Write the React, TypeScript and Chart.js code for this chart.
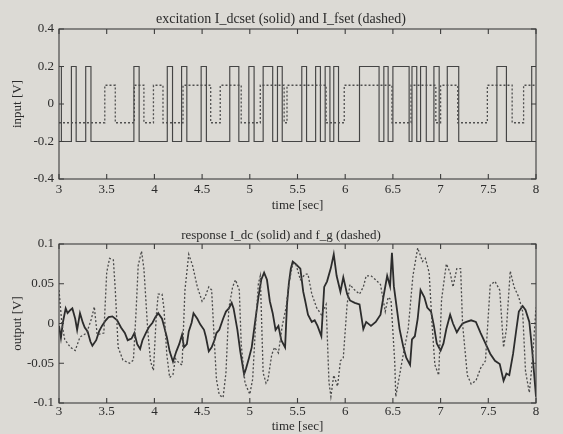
import React, { useEffect, useRef } from "react";
import { Chart, registerables } from "chart.js";

Chart.register(...registerables);

// ---------- axis ticks ----------
const timeTicks = [3, 3.5, 4, 4.5, 5, 5.5, 6, 6.5, 7, 7.5, 8];
const timeTickLabels = ["3", "3.5", "4", "4.5", "5", "5.5", "6", "6.5", "7", "7.5", "8"];
const inputTicks = [-0.4, -0.2, 0, 0.2, 0.4];
const inputTickLabels = ["-0.4", "-0.2", "0", "0.2", "0.4"];
const outputTicks = [-0.1, -0.05, 0, 0.05, 0.1];
const outputTickLabels = ["-0.1", "-0.05", "0", "0.05", "0.1"];

// ---------- excitation I_dcset (solid): switching times and new levels ----------
const dcsetTimes = [
  3.0, 3.025, 3.13, 3.18, 3.28, 3.335, 3.785, 3.84, 4.135, 4.19, 4.285, 4.34,
  4.49, 4.545, 4.79, 4.885, 4.99, 5.045, 5.14, 5.24, 5.29, 5.34, 5.545, 5.595,
  5.69, 5.74, 5.79, 5.84, 5.88, 5.93, 6.15, 6.355, 6.405, 6.45, 6.5, 6.67,
  6.7, 6.75, 6.79, 6.85, 6.93, 6.985, 7.07, 7.19, 7.59, 7.69, 7.955, 8.0,
];
const dcsetLevels = [
  0.2, -0.2, 0.2, -0.2, 0.2, -0.2, 0.2, -0.2, 0.2, -0.2, 0.2, -0.2,
  0.2, -0.2, 0.2, -0.2, 0.2, -0.2, 0.2, -0.2, 0.2, -0.2, 0.2, -0.2,
  0.2, -0.2, 0.2, -0.2, 0.2, -0.2, 0.2, -0.2, 0.2, -0.2, 0.2, -0.2,
  0.2, -0.2, 0.2, -0.2, 0.2, -0.2, 0.2, -0.2, 0.2, -0.2, 0.2, 0.2,
];

// ---------- excitation I_fset (dashed) ----------
const fsetTimes = [
  3.0, 3.48, 3.59, 3.79, 3.89, 3.99, 4.09, 4.3, 4.59, 4.69, 4.91, 5.11, 5.36,
  5.39, 5.8, 5.99, 6.49, 6.69, 6.95, 7.0, 7.18, 7.49, 7.75, 7.87, 8.0,
];
const fsetLevels = [
  -0.1, 0.1, -0.1, 0.1, -0.1, 0.1, -0.1, 0.1, -0.1, 0.1, -0.1, 0.1, -0.1,
  0.1, -0.1, 0.1, -0.1, 0.1, -0.1, 0.1, -0.1, 0.1, -0.1, 0.1, 0.1,
];

// ---------- response I_dc (solid) ----------
const idcTimes = [
  3.0, 3.02, 3.04, 3.07, 3.09, 3.12, 3.14, 3.17, 3.19, 3.22, 3.25, 3.27, 3.3,
  3.33, 3.35, 3.39, 3.42, 3.45, 3.49, 3.52, 3.56, 3.61, 3.65, 3.69, 3.72, 3.76,
  3.79, 3.82, 3.85, 3.875, 3.91, 3.94, 3.98, 4.01, 4.04, 4.08, 4.1, 4.13, 4.16,
  4.195, 4.23, 4.26, 4.29, 4.31, 4.34, 4.36, 4.39, 4.41, 4.45, 4.48, 4.52, 4.54,
  4.57, 4.6, 4.63, 4.65, 4.68, 4.72, 4.75, 4.78, 4.81, 4.83, 4.87, 4.9, 4.94,
  4.96, 4.99, 5.02, 5.05, 5.09, 5.12, 5.15, 5.18, 5.21, 5.24, 5.27, 5.3, 5.33,
  5.37, 5.39, 5.41, 5.43, 5.45, 5.48, 5.53, 5.56, 5.58, 5.61, 5.65, 5.68, 5.71,
  5.75, 5.78, 5.81, 5.85, 5.88, 5.91, 5.95, 5.98, 6.02, 6.05, 6.1, 6.15, 6.19,
  6.22, 6.27, 6.32, 6.37, 6.4, 6.44, 6.47, 6.49, 6.51, 6.54, 6.57, 6.61, 6.64,
  6.68, 6.7, 6.73, 6.76, 6.79, 6.83, 6.86, 6.9, 6.93, 6.96, 7.0, 7.03, 7.06,
  7.1, 7.13, 7.17, 7.2, 7.23, 7.27, 7.32, 7.37, 7.42, 7.47, 7.52, 7.57, 7.62,
  7.66, 7.69, 7.72, 7.76, 7.79, 7.82, 7.86, 7.89, 7.93, 7.96, 8.0,
];
const idcValues = [
  -0.003, -0.018, 0.001, 0.019, 0.013, 0.017, 0.019, 0.006, -0.008, 0.013, 0.001, -0.005, -0.01,
  -0.023, -0.028, -0.021, -0.01, -0.003, 0.004, 0.008, 0.009, 0.004, -0.005, -0.012, -0.021, -0.019,
  -0.012, -0.026, -0.032, -0.021, -0.012, -0.005, 0.001, 0.008, 0.013, 0.006, -0.003, -0.017, -0.035,
  -0.048, -0.035, -0.026, -0.014, -0.03, -0.026, -0.01, 0.001, 0.013, 0.006, -0.001, -0.008, -0.017,
  -0.035, -0.03, -0.021, -0.012, -0.008, 0.006, 0.015, 0.019, 0.026, 0.019, -0.008, -0.035, -0.064,
  -0.057, -0.044, -0.03, -0.003, 0.033, 0.055, 0.064, 0.055, 0.028, 0.013, -0.008, -0.003, -0.021,
  -0.03, 0.024, 0.051, 0.069, 0.078, 0.075, 0.069, 0.04, 0.029, 0.011, 0.002, 0.004, -0.003,
  -0.016, 0.046, 0.053, 0.07, 0.087, 0.06, 0.04, 0.058, 0.037, 0.029, 0.026, 0.024, -0.007,
  0.002, -0.003, 0.002, 0.011, 0.033, 0.06, 0.047, 0.089, 0.047, 0.02, -0.007, -0.03, -0.043,
  -0.052, -0.02, -0.016, 0.006, 0.042, 0.033, 0.02, 0.015, -0.003, -0.025, -0.034, -0.025, -0.007,
  0.011, 0.0, -0.011, -0.005, 0.0, 0.002, 0.004, 0.002, -0.012, -0.025, -0.038, -0.047, -0.051,
  -0.072, -0.063, -0.065, -0.038, -0.011, 0.015, 0.022, 0.017, 0.002, -0.034, -0.092,
];

// ---------- response f_g (dashed) ----------
const fgTimes = [
  3.0, 3.03, 3.06, 3.12, 3.17, 3.22, 3.29, 3.34, 3.37, 3.4, 3.44, 3.47, 3.5,
  3.53, 3.57, 3.59, 3.62, 3.67, 3.74, 3.78, 3.81, 3.83, 3.865, 3.89, 3.93, 3.96,
  3.99, 4.02, 4.04, 4.08, 4.1, 4.13, 4.16, 4.195, 4.22, 4.26, 4.29, 4.32, 4.36,
  4.4, 4.45, 4.5, 4.53, 4.57, 4.6, 4.63, 4.65, 4.68, 4.72, 4.75, 4.78, 4.82,
  4.85, 4.89, 4.91, 4.95, 5.0, 5.03, 5.06, 5.09, 5.11, 5.14, 5.17, 5.19, 5.23,
  5.26, 5.3, 5.34, 5.38, 5.41, 5.45, 5.48, 5.53, 5.58, 5.61, 5.65, 5.7, 5.75,
  5.8, 5.83, 5.85, 5.88, 5.92, 5.95, 5.98, 6.02, 6.05, 6.1, 6.15, 6.19, 6.22,
  6.27, 6.32, 6.37, 6.42, 6.45, 6.48, 6.52, 6.53, 6.57, 6.61, 6.66, 6.71, 6.76,
  6.81, 6.84, 6.88, 6.91, 6.94, 6.98, 7.01, 7.06, 7.1, 7.13, 7.17, 7.21, 7.23,
  7.28, 7.32, 7.37, 7.42, 7.47, 7.52, 7.57, 7.62, 7.66, 7.69, 7.73, 7.77, 7.82,
  7.86, 7.89, 7.93, 7.96, 8.0,
];
const fgValues = [
  0.042, 0.0, -0.02, -0.03, -0.034, -0.017, -0.012, 0.006, 0.021, -0.014, -0.013, -0.012, 0.064,
  0.082, 0.08, 0.042, -0.03, -0.046, -0.05, -0.046, 0.02, 0.073, 0.091, 0.069, -0.008, -0.048,
  -0.059, 0.01, 0.037, 0.037, 0.019, -0.039, -0.068, -0.064, -0.044, -0.05, -0.052, 0.042, 0.087,
  0.073, 0.046, 0.028, 0.033, 0.046, 0.042, -0.026, -0.07, -0.09, -0.093, -0.062, 0.019, 0.046,
  0.055, 0.042, -0.026, -0.075, -0.089, -0.07, -0.003, 0.05, 0.06, -0.062, -0.075, -0.071, -0.039,
  -0.03, -0.037, -0.003, 0.02, 0.05, 0.075, 0.076, 0.055, 0.062, 0.062, 0.037, 0.02, 0.011,
  0.024, -0.074, -0.092, -0.065, -0.079, -0.047, -0.043, 0.024, 0.049, 0.042, 0.037, 0.046, 0.06,
  0.06, 0.055, 0.049, 0.015, 0.033, 0.03, -0.05, -0.092, -0.065, -0.038, -0.007, 0.06, 0.095,
  0.078, 0.082, 0.064, 0.0, -0.052, -0.065, 0.03, 0.075, 0.064, 0.046, 0.069, 0.069, 0.0,
  -0.065, -0.076, -0.072, -0.056, -0.047, 0.048, 0.053, 0.042, -0.03, -0.007, 0.066, 0.046, 0.033,
  0.015, -0.06, -0.087, -0.05, 0.02,
];

const SERIF = "'Liberation Serif', 'DejaVu Serif', serif";
const TEXT = "#2b2b2b";
const BG = "#dcdad5";
const FONT_SIZE = 13;

const toPoints = (xs: number[], ys: number[]) => xs.map((x, i) => ({ x, y: ys[i] }));

const framePlugin = {
  id: "frameTicks",
  afterDatasetsDraw(chart: any) {
    const { ctx, chartArea: a, scales } = chart;
    const tl = 5;
    ctx.save();
    ctx.strokeStyle = "#3c3c3c";
    ctx.lineWidth = 1.1;
    ctx.strokeRect(a.left, a.top, a.right - a.left, a.bottom - a.top);
    ctx.beginPath();
    scales.x.ticks.forEach((t: any) => {
      const px = scales.x.getPixelForValue(t.value);
      ctx.moveTo(px, a.bottom);
      ctx.lineTo(px, a.bottom - tl);
      ctx.moveTo(px, a.top);
      ctx.lineTo(px, a.top + tl);
    });
    scales.y.ticks.forEach((t: any) => {
      const py = scales.y.getPixelForValue(t.value);
      ctx.moveTo(a.left, py);
      ctx.lineTo(a.left + tl, py);
      ctx.moveTo(a.right, py);
      ctx.lineTo(a.right - tl, py);
    });
    ctx.stroke();
    ctx.restore();
  },
};

function makeOptions(
  title: string,
  titleSize: number,
  titlePad: { top: number; bottom: number },
  yTitle: string,
  yMin: number,
  yMax: number,
  yTicks: number[],
  yLabels: string[],
  xScaleHeight: number,
  xTickPad: number
): any {
  const font = { family: SERIF, size: FONT_SIZE };
  return {
    animation: false,
    responsive: false,
    maintainAspectRatio: false,
    events: [],
    layout: { padding: { left: 26, right: 27, top: 0, bottom: 0 }, autoPadding: false },
    plugins: {
      legend: { display: false },
      tooltip: { enabled: false },
      title: {
        display: true,
        text: title,
        color: TEXT,
        font: { family: SERIF, size: titleSize, weight: "normal" },
        padding: titlePad,
      },
    },
    elements: { point: { radius: 0 } },
    scales: {
      x: {
        type: "linear",
        min: 3,
        max: 8,
        afterBuildTicks: (s: any) => {
          s.ticks = timeTicks.map((v) => ({ value: v }));
        },
        afterFit: (s: any) => {
          s.height = xScaleHeight;
        },
        ticks: {
          autoSkip: false,
          maxRotation: 0,
          padding: xTickPad,
          color: TEXT,
          font,
          callback: (_v: any, i: number) => timeTickLabels[i],
        },
        grid: { display: false, drawTicks: false },
        border: { display: false },
        title: { display: true, text: "time [sec]", color: TEXT, font, padding: { top: 0, bottom: 0 } },
      },
      y: {
        type: "linear",
        min: yMin,
        max: yMax,
        afterBuildTicks: (s: any) => {
          s.ticks = yTicks.map((v) => ({ value: v }));
        },
        afterFit: (s: any) => {
          s.width = 33;
        },
        ticks: {
          autoSkip: false,
          padding: 5,
          color: TEXT,
          font,
          callback: (_v: any, i: number) => yLabels[i],
        },
        grid: { display: false, drawTicks: false },
        border: { display: false },
        title: { display: true, text: yTitle, color: TEXT, font, padding: { top: -16, bottom: 0 } },
      },
    },
  };
}

function TopChart() {
  const ref = useRef<HTMLCanvasElement>(null);
  useEffect(() => {
    const chart = new Chart(ref.current as HTMLCanvasElement, {
      type: "line",
      data: {
        datasets: [
          {
            data: toPoints(fsetTimes, fsetLevels),
            stepped: "before",
            borderColor: "#505050",
            borderWidth: 1.3,
            borderDash: [2, 2],
            pointRadius: 0,
          },
          {
            data: toPoints(dcsetTimes, dcsetLevels),
            stepped: "before",
            borderColor: "#444444",
            borderWidth: 1.15,
            pointRadius: 0,
          },
        ],
      } as any,
      options: makeOptions(
        "excitation I_dcset (solid) and I_fset (dashed)",
        14,
        { top: 10.6, bottom: 1.6 },
        "input [V]",
        -0.4,
        0.4,
        inputTicks,
        inputTickLabels,
        34,
        3
      ),
      plugins: [framePlugin],
    });
    return () => chart.destroy();
  }, []);
  return (
    <canvas
      ref={ref}
      width={563}
      height={213}
      style={{ position: "absolute", left: 0, top: 0, width: 563, height: 213 }}
    />
  );
}

function BottomChart() {
  const ref = useRef<HTMLCanvasElement>(null);
  useEffect(() => {
    const chart = new Chart(ref.current as HTMLCanvasElement, {
      type: "line",
      data: {
        datasets: [
          {
            data: toPoints(fgTimes, fgValues),
            borderColor: "#4a4a4a",
            borderWidth: 1.3,
            borderDash: [2, 2],
            pointRadius: 0,
            tension: 0,
          },
          {
            data: toPoints(idcTimes, idcValues),
            borderColor: "#2c2c2c",
            borderWidth: 1.8,
            pointRadius: 0,
            tension: 0,
          },
        ],
      } as any,
      options: makeOptions(
        "response I_dc (solid) and f_g (dashed)",
        13,
        { top: 15.2, bottom: 0.2 },
        "output [V]",
        -0.1,
        0.1,
        outputTicks,
        outputTickLabels,
        31,
        1
      ),
      plugins: [framePlugin],
    });
    return () => chart.destroy();
  }, []);
  return (
    <canvas
      ref={ref}
      width={563}
      height={221}
      style={{ position: "absolute", left: 0, top: 213, width: 563, height: 221 }}
    />
  );
}

export default function App() {
  return (
    <div
      style={{
        position: "fixed",
        left: 0,
        top: 0,
        width: 563,
        height: 434,
        background: BG,
        overflow: "hidden",
      }}
    >
      <TopChart />
      <BottomChart />
    </div>
  );
}
